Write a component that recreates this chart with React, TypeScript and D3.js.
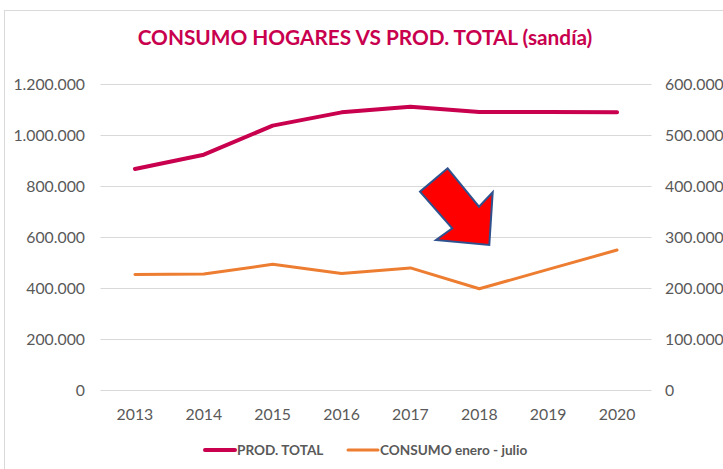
import React from "react";
import * as d3 from "d3";

const years = ["2013", "2014", "2015", "2016", "2017", "2018", "2019", "2020"];
const prodTotal = [868000, 924000, 1038000, 1090000, 1112000, 1091000, 1091000, 1090000];
const consumo = [227000, 228000, 247000, 229000, 240000, 199000, 237000, 275000];
const leftTicks = [0, 200000, 400000, 600000, 800000, 1000000, 1200000];
const rightTicks = [0, 100000, 200000, 300000, 400000, 500000, 600000];
const arrowShape = [
  [447.7, 168.3],
  [420, 191.7],
  [452.3, 228.3],
  [436, 240],
  [489.3, 245],
  [492.7, 192.3],
  [479, 206.7],
];

const fmt = (v: number) => (v === 0 ? "0" : d3.format(",")(v).replace(/,/g, "."));

export default function App() {
  const W = 723, H = 469;
  const x = d3.scalePoint<string>().domain(years).range([100.5, 651.5]).padding(0.5);
  const yL = d3.scaleLinear().domain([0, 1200000]).range([390.3, 84.3]);
  const yR = d3.scaleLinear().domain([0, 600000]).range([390.3, 84.3]);
  const lineL = d3.line<number>().x((_, i) => x(years[i])!).y((d) => yL(d));
  const lineR = d3.line<number>().x((_, i) => x(years[i])!).y((d) => yR(d));
  const font = "Lato, 'Open Sans', sans-serif";
  const grey = "#595959";
  return (
    <svg width={W} height={H} style={{ position: "absolute", left: 0, top: 0, background: "#fff" }} fontFamily={font}>
      <rect x={4.5} y={10.5} width={W + 10} height={H + 10} fill="#fff" stroke="#D9D9D9" />
      <text x={365} y={45} textAnchor="middle" fontSize={20.8} fontWeight="bold" fill="#C8004E">
        CONSUMO HOGARES VS PROD. TOTAL (sandía)
      </text>
      {leftTicks.map((t) => (
        <line key={t} x1={100.5} x2={651.5} y1={Math.round(yL(t)) + 0.5} y2={Math.round(yL(t)) + 0.5} stroke="#D9D9D9" />
      ))}
      {leftTicks.map((t) => (
        <text key={"l" + t} x={85} y={yL(t)} dy="0.35em" textAnchor="end" fontSize={15.8} fill={grey}>
          {fmt(t)}
        </text>
      ))}
      {rightTicks.map((t) => (
        <text key={"r" + t} x={665} y={yR(t)} dy="0.35em" textAnchor="start" fontSize={15.8} fill={grey}>
          {fmt(t)}
        </text>
      ))}
      {years.map((yv) => (
        <text key={yv} x={x(yv)} y={414} dy="0.35em" textAnchor="middle" fontSize={15.8} fill={grey}>
          {yv}
        </text>
      ))}
      <path d={lineL(prodTotal)!} fill="none" stroke="#C8004E" strokeWidth={4} strokeLinejoin="round" strokeLinecap="round" />
      <path d={lineR(consumo)!} fill="none" stroke="#ED7D31" strokeWidth={3} strokeLinejoin="round" strokeLinecap="round" />
      <polygon points={arrowShape.map((p) => p.join(",")).join(" ")} fill="#FF0000" stroke="#2F528F" strokeWidth={2} strokeLinejoin="miter" />
      <line x1={205} x2={235} y1={450} y2={450} stroke="#C8004E" strokeWidth={4} strokeLinecap="round" />
      <text x={237} y={450} dy="0.35em" fontSize={13.6} fontWeight="bold" fill={grey}>PROD. TOTAL</text>
      <line x1={348} x2={378} y1={450} y2={450} stroke="#ED7D31" strokeWidth={3} strokeLinecap="round" />
      <text x={380} y={450} dy="0.35em" fontSize={13.6} fontWeight="bold" fill={grey}>CONSUMO enero - julio</text>
    </svg>
  );
}
